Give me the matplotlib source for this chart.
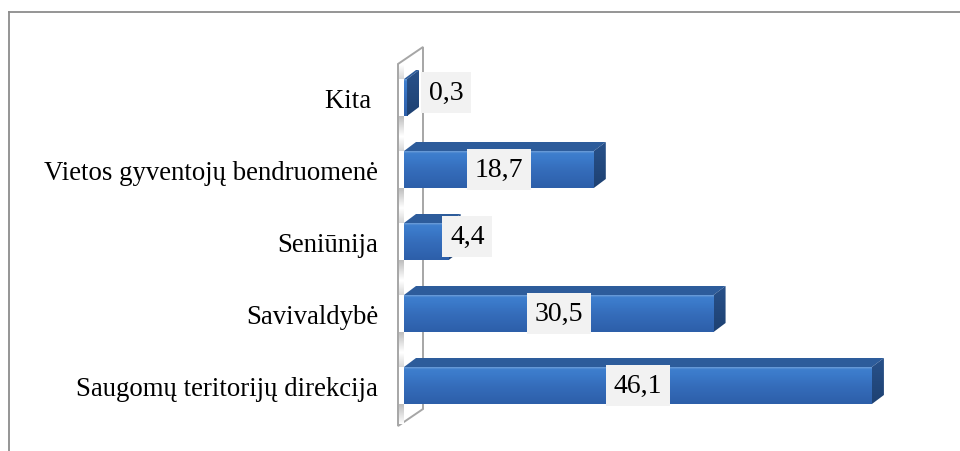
import matplotlib
import numpy as np

matplotlib.use("Agg")
import matplotlib.pyplot as plt  # noqa: E402
from matplotlib.colors import LinearSegmentedColormap  # noqa: E402
from matplotlib.lines import Line2D  # noqa: E402
from matplotlib.patches import Polygon  # noqa: E402

categories = [
    "Saugomų teritorijų direkcija",
    "Savivaldybė",
    "Seniūnija",
    "Vietos gyventojų bendruomenė",
    "Kita ",
]
values = [46.1, 30.5, 4.4, 18.7, 0.3]

W, H = 960, 452
PX = 10.15   # pixels per value unit
ROW = 72.0   # pixels per category
X0 = 404     # pixel x of value 0
Y0 = 386.5   # pixel y (from top) of first category

fig = plt.figure(figsize=(W / 100, H / 100), dpi=100)
ax_l, ax_r, ax_t, ax_b = 390, 910, 40, 440
ax = fig.add_axes([ax_l / W, (H - ax_b) / H, (ax_r - ax_l) / W, (ax_b - ax_t) / H])
xlim = ((ax_l - X0) / PX, (ax_r - X0) / PX)
ylim = ((Y0 - ax_b) / ROW, (Y0 - ax_t) / ROW)

BH = 37 / ROW
DX = 12 / PX
DY = 9 / ROW

front_cmap = LinearSegmentedColormap.from_list(
    "front", [(0.0, "#2d5fa9"), (0.5, "#356dbb"), (0.8, "#3b7aca"), (0.95, "#3e7ecd"), (1.0, "#6f9fd9")])
side_cmap = LinearSegmentedColormap.from_list("side", ["#1e4172", "#28518a"])
shade_cmap = LinearSegmentedColormap.from_list("shade", ["#ffffff", "#bdbdbd"])
grad = np.linspace(0, 1, 64).reshape(-1, 1)

# axis wall
wl, wr = (398 - X0) / PX, (423 - X0) / PX
wall = Polygon([(wl, (Y0 - 427) / ROW), (wr, (Y0 - 410) / ROW),
                (wr, (Y0 - 48) / ROW), (wl, (Y0 - 65) / ROW)],
               closed=True, facecolor="white", edgecolor="#a6a6a6", lw=1.4,
               zorder=1, clip_on=False)
ax.add_patch(wall)

for i, v in enumerate(values):
    y_lo, y_hi = i - BH / 2, i + BH / 2
    # soft shadow of the bar on the wall
    ax.imshow(grad, extent=(wl + 0.12, 0, y_lo - 20 / ROW, y_lo), origin="lower",
              aspect="auto", cmap=shade_cmap, zorder=1.5, interpolation="bicubic")
    ax.imshow(grad[::-1], extent=(wl + 0.12, 0, y_hi, y_hi + 14 / ROW), origin="lower",
              aspect="auto", cmap=shade_cmap, zorder=1.5, interpolation="bicubic", alpha=0.6)

    ax.imshow(grad, extent=(0, v, y_lo, y_hi), origin="lower", aspect="auto",
              cmap=front_cmap, zorder=3, interpolation="bicubic")
    top = Polygon([(0, y_hi), (v, y_hi), (v + DX, y_hi + DY), (DX, y_hi + DY)],
                  closed=True, facecolor="#2d5c9b", edgecolor="none", zorder=3)
    ax.add_patch(top)
    side = Polygon([(v, y_lo), (v + DX, y_lo + DY), (v + DX, y_hi + DY), (v, y_hi)],
                   closed=True, facecolor="none", edgecolor="none", zorder=3)
    ax.add_patch(side)
    im = ax.imshow(grad, extent=(v, v + DX, y_lo, y_hi + DY), origin="lower",
                   aspect="auto", cmap=side_cmap, zorder=3, interpolation="bicubic")
    im.set_clip_path(side)

    txt = f"{v:.1f}".replace(".", ",")
    box = dict(boxstyle="square,pad=0.28", facecolor="#f2f2f2", edgecolor="none")
    if v < 8:
        ax.text(max(v + 0.15, 2.45), i + 5 / ROW, txt, ha="left", va="center",
                family="Liberation Serif", fontsize=20, zorder=5, bbox=box)
    else:
        ax.text(v / 2, i, txt, ha="center", va="center",
                family="Liberation Serif", fontsize=20, zorder=5, bbox=box)

ax.set_xlim(*xlim)
ax.set_ylim(*ylim)
ax.set_yticks(range(len(categories)))
ax.set_yticklabels(categories, family="Liberation Serif", fontsize=19.3)
ax.tick_params(axis="y", length=0, pad=(ax_l - 378) * 0.72)
ax.set_xticks([])
for s in ax.spines.values():
    s.set_visible(False)
ax.patch.set_alpha(0)

# outer chart frame
fig.add_artist(Line2D([9 / W, 1], [1 - 13 / H, 1 - 13 / H], transform=fig.transFigure,
                      color="#8c8c8c", lw=1.3))
fig.add_artist(Line2D([9 / W, 9 / W], [0, 1 - 13 / H], transform=fig.transFigure,
                      color="#8c8c8c", lw=1.3))

fig.savefig("out.png", dpi=100)
